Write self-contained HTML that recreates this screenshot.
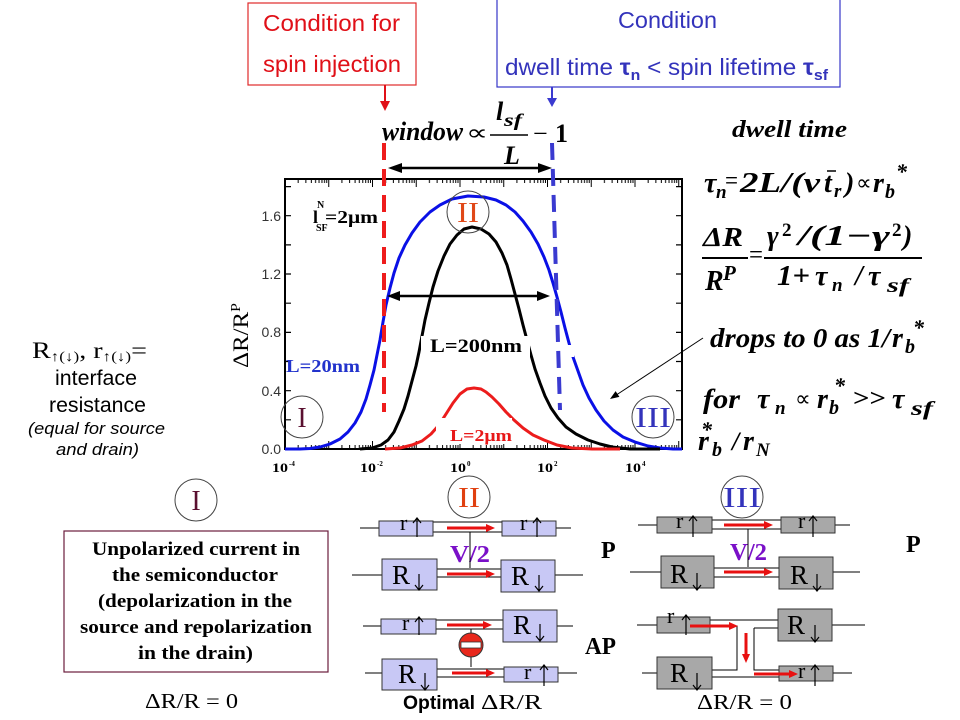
<!DOCTYPE html>
<html><head><meta charset="utf-8">
<style>
html,body{margin:0;padding:0;background:#fff;}
svg{display:block}
.s{font-family:"Liberation Sans",sans-serif}
.t{font-family:"Liberation Serif",serif}
.tb{font-family:"Liberation Serif",serif;font-weight:bold}
.m{font-family:"Liberation Serif",serif;font-style:italic;font-weight:bold}
</style></head><body>
<svg width="960" height="720" viewBox="0 0 960 720" xmlns="http://www.w3.org/2000/svg">
<defs>
<pattern id="pB" patternUnits="userSpaceOnUse" x="284" y="0" width="43.75" height="720">
<path d="M1 441V449M14.17 445V449M21.87 445V449M27.34 445V449M31.58 445V449M35.04 445V449M37.97 445V449M40.51 445V449M42.74 445V449" stroke="#000" stroke-width="1"/>
</pattern>
<pattern id="pT" patternUnits="userSpaceOnUse" x="284" y="0" width="43.75" height="720">
<path d="M1 179V187M14.17 179V183M21.87 179V183M27.34 179V183M31.58 179V183M35.04 179V183M37.97 179V183M40.51 179V183M42.74 179V183" stroke="#000" stroke-width="1"/>
</pattern>
</defs>
<rect width="960" height="720" fill="#fff"/>

<!-- top red box -->
<rect x="248" y="3" width="168" height="82" fill="none" stroke="#e02a2a" stroke-width="1.2"/>
<text class="s" x="263" y="31" font-size="23" fill="#e01018" textLength="137" lengthAdjust="spacingAndGlyphs">Condition for</text>
<text class="s" x="263" y="72" font-size="23" fill="#e01018" textLength="138" lengthAdjust="spacingAndGlyphs">spin injection</text>
<line x1="385" y1="85" x2="385" y2="102" stroke="#e01018" stroke-width="2"/>
<polygon points="380,101 390,101 385,111" fill="#e01018"/>

<!-- top blue box -->
<rect x="497" y="-2" width="343" height="89" fill="none" stroke="#3535c8" stroke-width="1.2"/>
<text class="s" x="618" y="28" font-size="23" fill="#3333bb" textLength="99" lengthAdjust="spacingAndGlyphs">Condition</text>
<text class="s" x="505" y="75" font-size="23" fill="#3333bb" textLength="323" lengthAdjust="spacingAndGlyphs">dwell time <tspan font-weight="bold">τ</tspan><tspan font-size="15" font-weight="bold" dy="5">n</tspan><tspan dy="-5"> &lt; spin lifetime </tspan><tspan font-weight="bold">τ</tspan><tspan font-size="15" font-weight="bold" dy="5">sf</tspan></text>
<line x1="552" y1="87" x2="552" y2="99" stroke="#3a3ad0" stroke-width="2"/>
<polygon points="547,98 557,98 552,107" fill="#3a3ad0"/>

<!-- window formula -->
<text class="m" x="382" y="140" font-size="26" textLength="81" lengthAdjust="spacingAndGlyphs">window</text>
<text class="t" x="466" y="140" font-size="22" textLength="22" lengthAdjust="spacingAndGlyphs">∝</text>
<text class="m" x="496" y="120" font-size="26">l</text>
<text class="m" x="504" y="126" font-size="18" textLength="18" lengthAdjust="spacingAndGlyphs">sf</text>
<line x1="490" y1="135" x2="528" y2="135" stroke="#000" stroke-width="1.5"/>
<text class="m" x="504" y="164" font-size="26">L</text>
<text class="t" x="533" y="142" font-size="26">−</text>
<text class="tb" x="555" y="142" font-size="26">1</text>

<!-- top double arrow -->
<line x1="398" y1="168" x2="542" y2="168" stroke="#000" stroke-width="2.5"/>
<polygon points="388,168 402,163 402,173" fill="#000"/>
<polygon points="552,168 538,163 538,173" fill="#000"/>

<!-- chart frame and ticks -->
<rect x="285" y="179" width="397" height="270" fill="none" stroke="#000" stroke-width="2"/>
<rect x="285" y="440" width="397" height="9" fill="url(#pB)"/>
<rect x="285" y="179" width="397" height="9" fill="url(#pT)"/>
<path d="M285 419.8h6M285 390.7h6M285 361.5h6M285 332.4h6M285 303.2h6M285 274h6M285 244.9h6M285 215.7h6M285 186.6h6M682 419.8h-6M682 390.7h-6M682 361.5h-6M682 332.4h-6M682 303.2h-6M682 274h-6M682 244.9h-6M682 215.7h-6M682 186.6h-6" stroke="#000" stroke-width="1.2"/>

<g class="s" font-size="14" fill="#333" text-anchor="end">
<text x="281" y="454">0.0</text>
<text x="281" y="396">0.4</text>
<text x="281" y="337">0.8</text>
<text x="281" y="279">1.2</text>
<text x="281" y="221">1.6</text>
</g>
<g class="tb" font-size="13" fill="#000">
<text x="272" y="472" textLength="16" lengthAdjust="spacingAndGlyphs">10</text><text x="289" y="466" font-size="7">-4</text>
<text x="360" y="472" textLength="16" lengthAdjust="spacingAndGlyphs">10</text><text x="377" y="466" font-size="7">-2</text>
<text x="450" y="472" textLength="16" lengthAdjust="spacingAndGlyphs">10</text><text x="467" y="466" font-size="7">0</text>
<text x="537" y="472" textLength="16" lengthAdjust="spacingAndGlyphs">10</text><text x="554" y="466" font-size="7">2</text>
<text x="625" y="472" textLength="16" lengthAdjust="spacingAndGlyphs">10</text><text x="642" y="466" font-size="7">4</text>
</g>

<!-- y label -->
<text class="t" transform="translate(248,368) rotate(-90)" font-size="22" textLength="65" lengthAdjust="spacingAndGlyphs">ΔR/R<tspan font-size="14" dy="-8">P</tspan></text>

<!-- curves -->
<polyline fill="none" stroke="#0a10e6" stroke-width="3" stroke-linejoin="round" points="285,449 300,449 310,448.5 320,447 330,444 340,439 348,432 355,423 361,412 366,399 370,385 374,370 377,355 380,340 383,322 386,305 390,288 394,273 399,258 405,245 412,233 420,222 430,212 440,205 452,199 468,196 484,197 496,200 506,205 515,212 523,221 531,232 538,244 544,257 549,270 553,283 557,297 561,312 565,328 569,343 573,357 578,371 583,385 589,398 596,410 604,421 613,430 623,437 635,442 648,446 660,448 673,449 682,449"/>
<polyline fill="none" stroke="#000" stroke-width="3" stroke-linejoin="round" points="360,449 372,448 381,445 388,440 394,432 399,421 404,409 408,396 412,381 416,366 419,352 422,336 425,320 429,303 433,287 438,271 444,256 450,244 457,235 464,229 472,227 481,229 489,234 496,242 502,253 507,265 511,279 515,294 519,309 523,325 527,340 531,355 535,369 540,383 545,396 551,408 558,418 566,427 576,434 588,440 600,444 612,447 630,449 660,449"/>
<polyline fill="none" stroke="#ec1c1c" stroke-width="3" stroke-linejoin="round" points="385,449 400,448 412,445 422,441 431,434 439,425 446,414 453,403 460,394 467,389 474,388 481,389 486,392 492,397 499,404 506,412 514,420 523,428 533,435 544,440 557,445 572,448 592,449 620,449"/>

<!-- label backgrounds -->
<rect x="421" y="336" width="109" height="21" fill="#fff"/>
<rect x="436" y="418" width="76" height="26" fill="#fff"/>
<rect x="566" y="345" width="8" height="12" fill="#fff"/>

<!-- chart labels -->
<text class="tb" x="286" y="372" font-size="18" fill="#2233cc" textLength="74" lengthAdjust="spacingAndGlyphs">L=20nm</text>
<text class="tb" x="430" y="352" font-size="19" fill="#000" textLength="92" lengthAdjust="spacingAndGlyphs">L=200nm</text>
<text class="tb" x="450" y="441" font-size="17" fill="#e81818" textLength="62" lengthAdjust="spacingAndGlyphs">L=2μm</text>
<text class="tb" x="313" y="223" font-size="18">l</text>
<text class="tb" x="317" y="208" font-size="10">N</text>
<text class="tb" x="316" y="231" font-size="10">SF</text>
<text class="tb" x="325" y="223" font-size="18" textLength="53" lengthAdjust="spacingAndGlyphs">=2μm</text>

<!-- dashed lines -->
<line x1="384" y1="143" x2="384" y2="412" stroke="#ee1c1c" stroke-width="4" stroke-dasharray="17 9"/>
<line x1="552" y1="143" x2="560" y2="410" stroke="#3a3ad0" stroke-width="4" stroke-dasharray="17 9"/>

<!-- chart double arrow -->
<line x1="397" y1="296" x2="540" y2="296" stroke="#000" stroke-width="2.5"/>
<polygon points="387,296 400,291 400,301" fill="#000"/>
<polygon points="550,296 537,291 537,301" fill="#000"/>

<!-- circles in chart -->
<circle cx="468" cy="212" r="21" fill="none" stroke="#444" stroke-width="1"/>
<text class="t" x="468" y="222" font-size="28" fill="#e04818" text-anchor="middle" textLength="22" lengthAdjust="spacingAndGlyphs">II</text>
<circle cx="302" cy="417" r="21" fill="none" stroke="#444" stroke-width="1"/>
<text class="t" x="302" y="427" font-size="28" fill="#5a1030" text-anchor="middle">I</text>
<circle cx="653" cy="417" r="21" fill="none" stroke="#444" stroke-width="1"/>
<text class="t" x="653" y="427" font-size="28" fill="#3333bb" text-anchor="middle" textLength="36" lengthAdjust="spacingAndGlyphs">III</text>

<!-- drops arrow -->
<line x1="703" y1="338" x2="614" y2="396.5" stroke="#000" stroke-width="1"/>
<polygon points="610,399 619.4,396.9 615.6,391.1" fill="#000"/>

<!-- right formulas -->
<text class="m" x="732" y="137" font-size="24" textLength="115" lengthAdjust="spacingAndGlyphs">dwell time</text>

<text class="m" x="704" y="192" font-size="28">τ</text>
<text class="m" x="716" y="198" font-size="19">n</text>
<text class="t" x="725" y="189" font-size="26" textLength="13" lengthAdjust="spacingAndGlyphs">=</text>
<text class="m" x="740" y="192" font-size="28" textLength="80" lengthAdjust="spacingAndGlyphs">2L/(v</text>
<text class="m" x="824" y="192" font-size="28">t</text>
<line x1="827" y1="171" x2="836" y2="171" stroke="#000" stroke-width="1.5"/>
<text class="m" x="834" y="197" font-size="19">r</text>
<text class="m" x="845" y="192" font-size="28">)</text>
<text class="t" x="856" y="190" font-size="22">∝</text>
<text class="m" x="873" y="192" font-size="28">r</text>
<text class="m" x="885" y="198" font-size="20">b</text>
<text class="m" x="896" y="179" font-size="22">*</text>

<text class="m" x="703" y="246" font-size="27" textLength="40" lengthAdjust="spacingAndGlyphs">ΔR</text>
<line x1="702" y1="258" x2="748" y2="258" stroke="#000" stroke-width="2"/>
<text class="m" x="705" y="290" font-size="28">R</text>
<text class="m" x="723" y="280" font-size="21">P</text>
<text class="t" x="749" y="263" font-size="26" textLength="14" lengthAdjust="spacingAndGlyphs">=</text>
<text class="m" x="767" y="245" font-size="28">γ</text>
<text class="tb" x="782" y="236" font-size="19">2</text>
<text class="m" x="798" y="245" font-size="28" textLength="92" lengthAdjust="spacingAndGlyphs">/(1−γ</text>
<text class="tb" x="892" y="236" font-size="19">2</text>
<text class="m" x="903" y="245" font-size="28">)</text>
<line x1="764" y1="258" x2="922" y2="258" stroke="#000" stroke-width="2"/>
<text class="m" x="777" y="285" font-size="28" textLength="33" lengthAdjust="spacingAndGlyphs">1+</text>
<text class="m" x="815" y="285" font-size="28">τ</text>
<text class="m" x="832" y="291" font-size="19">n</text>
<text class="m" x="855" y="285" font-size="28">/</text>
<text class="m" x="868" y="285" font-size="28">τ</text>
<text class="m" x="887" y="292" font-size="20" textLength="22" lengthAdjust="spacingAndGlyphs">sf</text>

<text class="m" x="710" y="347" font-size="27" textLength="180" lengthAdjust="spacingAndGlyphs">drops to 0 as 1/</text>
<text class="m" x="892" y="347" font-size="28">r</text>
<text class="m" x="905" y="353" font-size="20">b</text>
<text class="m" x="913" y="335" font-size="22">*</text>

<text class="m" x="703" y="408" font-size="27" textLength="37" lengthAdjust="spacingAndGlyphs">for</text>
<text class="m" x="757" y="408" font-size="28">τ</text>
<text class="m" x="775" y="414" font-size="19">n</text>
<text class="t" x="795" y="406" font-size="22">∝</text>
<text class="m" x="817" y="408" font-size="28">r</text>
<text class="m" x="829" y="414" font-size="20">b</text>
<text class="m" x="834" y="393" font-size="22">*</text>
<text class="tb" x="853" y="406" font-size="24" textLength="33" lengthAdjust="spacingAndGlyphs">&gt;&gt;</text>
<text class="m" x="892" y="408" font-size="28">τ</text>
<text class="m" x="911" y="415" font-size="20" textLength="22" lengthAdjust="spacingAndGlyphs">sf</text>

<text class="m" x="698" y="450" font-size="28">r</text>
<text class="m" x="712" y="456" font-size="20">b</text>
<text class="m" x="701" y="437" font-size="22">*</text>
<text class="m" x="732" y="450" font-size="26">/</text>
<text class="m" x="743" y="450" font-size="28">r</text>
<text class="m" x="756" y="456" font-size="19">N</text>

<!-- left text -->
<text class="t" x="32" y="358" font-size="23" textLength="115" lengthAdjust="spacingAndGlyphs">R<tspan font-size="14" dy="3">↑(↓)</tspan><tspan dy="-3">, r</tspan><tspan font-size="14" dy="3">↑(↓)</tspan><tspan dy="-3">=</tspan></text>
<text class="s" x="55" y="385" font-size="21" textLength="82" lengthAdjust="spacingAndGlyphs">interface</text>
<text class="s" x="49" y="412" font-size="21" textLength="97" lengthAdjust="spacingAndGlyphs">resistance</text>
<text class="s" x="28" y="434" font-size="17" font-style="italic" textLength="137" lengthAdjust="spacingAndGlyphs">(equal for source</text>
<text class="s" x="56" y="455" font-size="17" font-style="italic" textLength="83" lengthAdjust="spacingAndGlyphs">and drain)</text>

<!-- bottom left -->
<circle cx="196" cy="500" r="21" fill="none" stroke="#444" stroke-width="1"/>
<text class="t" x="196" y="510" font-size="28" fill="#5a1030" text-anchor="middle">I</text>
<rect x="64" y="531" width="264" height="141" fill="none" stroke="#6b1d3d" stroke-width="1.2"/>
<g class="tb" font-size="19" fill="#000">
<text x="92" y="555" textLength="208" lengthAdjust="spacingAndGlyphs">Unpolarized current in</text>
<text x="112" y="581" textLength="166" lengthAdjust="spacingAndGlyphs">the semiconductor</text>
<text x="98" y="607" textLength="194" lengthAdjust="spacingAndGlyphs">(depolarization in the</text>
<text x="80" y="633" textLength="232" lengthAdjust="spacingAndGlyphs">source and repolarization</text>
<text x="138" y="659" textLength="115" lengthAdjust="spacingAndGlyphs">in the drain)</text>
</g>
<text class="t" x="145" y="708" font-size="21" textLength="93" lengthAdjust="spacingAndGlyphs">ΔR/R = 0</text>

<!-- middle diagram -->
<circle cx="469" cy="497" r="21" fill="none" stroke="#444" stroke-width="1"/>
<text class="t" x="469" y="507" font-size="28" fill="#e04010" text-anchor="middle" textLength="22" lengthAdjust="spacingAndGlyphs">II</text>
<g stroke="#000" stroke-width="1" fill="none">
<path d="M360 528H379M556 528H571M433 522H502M433 532H502"/>
<path d="M352 575H382M555 575H583M437 569H501M437 577H501"/>
<path d="M363 626H381M557 626H573M436 620H503M436 629H503"/>
<path d="M365 673H382M558 673H577M437 669H504M437 677H504"/>
</g>
<g fill="#c8c8f5" stroke="#333" stroke-width="1">
<rect x="379" y="521" width="54" height="15"/>
<rect x="502" y="521" width="54" height="15"/>
<rect x="382" y="559" width="55" height="31"/>
<rect x="501" y="560" width="54" height="32"/>
<rect x="381" y="619" width="55" height="15"/>
<rect x="503" y="610" width="54" height="32"/>
<rect x="382" y="659" width="55" height="31"/>
<rect x="504" y="667" width="54" height="15"/>
</g>
<g class="t" fill="#000">
<text x="400" y="530" font-size="22">r</text>
<text x="520" y="530" font-size="22">r</text>
<text x="392" y="584" font-size="27">R</text>
<text x="511" y="585" font-size="27">R</text>
<text x="402" y="630" font-size="22">r</text>
<text x="513" y="634" font-size="27">R</text>
<text x="398" y="683" font-size="27">R</text>
<text x="524" y="679" font-size="22">r</text>
</g>
<g stroke="#000" stroke-width="1.2" fill="none">
<path d="M417 537V518M413 523L417 518L421 523"/>
<path d="M537 537V518M533 523L537 518L541 523"/>
<path d="M419 574V590M415 585L419 590L423 585"/>
<path d="M539 575V591M535 586L539 591L543 586"/>
<path d="M419 635V617M415 622L419 617L423 622"/>
<path d="M540 624V641M536 636L540 641L544 636"/>
<path d="M425 673V690M421 685L425 690L429 685"/>
<path d="M544 686V665M540 670L544 665L548 670"/>
</g>
<g stroke="#e81010" stroke-width="3">
<line x1="447" y1="528" x2="488" y2="528"/>
<line x1="447" y1="574" x2="488" y2="574"/>
<line x1="447" y1="625" x2="485" y2="625"/>
<line x1="452" y1="673" x2="488" y2="673"/>
</g>
<g fill="#e81010">
<polygon points="495,528 486,524 486,532"/>
<polygon points="495,574 486,570 486,578"/>
<polygon points="492,625 483,621 483,629"/>
<polygon points="495,673 486,669 486,677"/>
</g>
<text class="tb" x="450" y="562" font-size="24" fill="#7a10c8" textLength="40" lengthAdjust="spacingAndGlyphs">V/2</text>
<line x1="470" y1="532" x2="470" y2="568" stroke="#000" stroke-width="1"/>
<line x1="471" y1="629" x2="471" y2="633" stroke="#000" stroke-width="1"/>
<line x1="471" y1="657" x2="471" y2="667" stroke="#000" stroke-width="1"/>
<circle cx="471" cy="645" r="12" fill="#e8281c" stroke="#333" stroke-width="1"/>
<rect x="461" y="642" width="20" height="6" fill="#fff" stroke="#333" stroke-width="0.8"/>
<text class="tb" x="601" y="558" font-size="24">P</text>
<text class="tb" x="585" y="654" font-size="24" textLength="31" lengthAdjust="spacingAndGlyphs">AP</text>
<text class="s" x="403" y="709" font-size="19" font-weight="bold" textLength="72" lengthAdjust="spacingAndGlyphs">Optimal</text>
<text class="t" x="481" y="709" font-size="21" textLength="61" lengthAdjust="spacingAndGlyphs">ΔR/R</text>

<!-- right diagram -->
<circle cx="742" cy="497" r="21" fill="none" stroke="#444" stroke-width="1"/>
<text class="t" x="742" y="507" font-size="28" fill="#3333bb" text-anchor="middle" textLength="38" lengthAdjust="spacingAndGlyphs">III</text>
<g stroke="#000" stroke-width="1" fill="none">
<path d="M638 525H657M835 525H850M712 520H781M712 529H781"/>
<path d="M630 572H661M833 572H860M714 568H779M714 577H779"/>
<path d="M637 625H657M832 625H865M710 620H778M710 626H737V670H712M754 628H778M754 628V670H779M712 677H779"/>
<path d="M642 673H657M833 673H852"/>
</g>
<g fill="#a8a8a8" stroke="#333" stroke-width="1">
<rect x="657" y="517" width="55" height="16"/>
<rect x="781" y="517" width="54" height="16"/>
<rect x="661" y="556" width="53" height="32"/>
<rect x="779" y="557" width="54" height="32"/>
<rect x="657" y="617" width="53" height="16"/>
<rect x="778" y="609" width="54" height="32"/>
<rect x="657" y="657" width="55" height="32"/>
<rect x="779" y="666" width="54" height="15"/>
</g>
<g class="t" fill="#000">
<text x="676" y="528" font-size="22">r</text>
<text x="798" y="528" font-size="22">r</text>
<text x="670" y="583" font-size="27">R</text>
<text x="790" y="584" font-size="27">R</text>
<text x="667" y="623" font-size="22">r</text>
<text x="787" y="634" font-size="27">R</text>
<text x="670" y="682" font-size="27">R</text>
<text x="798" y="678" font-size="22">r</text>
</g>
<g stroke="#000" stroke-width="1.2" fill="none">
<path d="M693 537V516M689 521L693 516L697 521"/>
<path d="M813 537V516M809 521L813 516L817 521"/>
<path d="M697 573V590M693 585L697 590L701 585"/>
<path d="M817 574V591M813 586L817 591L821 586"/>
<path d="M686 635V615M682 620L686 615L690 620"/>
<path d="M815 625V642M811 637L815 642L819 637"/>
<path d="M697 673V690M693 685L697 690L701 685"/>
<path d="M815 686V665M811 670L815 665L819 670"/>
</g>
<g stroke="#e81010" stroke-width="3">
<line x1="724" y1="525" x2="766" y2="525"/>
<line x1="724" y1="572" x2="766" y2="572"/>
<line x1="690" y1="626" x2="730" y2="626"/>
<line x1="746" y1="633" x2="746" y2="655"/>
<line x1="754" y1="674" x2="791" y2="674"/>
</g>
<g fill="#e81010">
<polygon points="773,525 764,521 764,529"/>
<polygon points="773,572 764,568 764,576"/>
<polygon points="738,626 729,622 729,630"/>
<polygon points="746,663 742,654 750,654"/>
<polygon points="798,674 789,670 789,678"/>
</g>
<text class="tb" x="730" y="560" font-size="24" fill="#7a10c8" textLength="37" lengthAdjust="spacingAndGlyphs">V/2</text>
<line x1="748" y1="529" x2="748" y2="567" stroke="#000" stroke-width="1"/>
<text class="tb" x="906" y="552" font-size="24">P</text>
<text class="t" x="697" y="709" font-size="21" textLength="95" lengthAdjust="spacingAndGlyphs">ΔR/R = 0</text>
</svg>
</body></html>
